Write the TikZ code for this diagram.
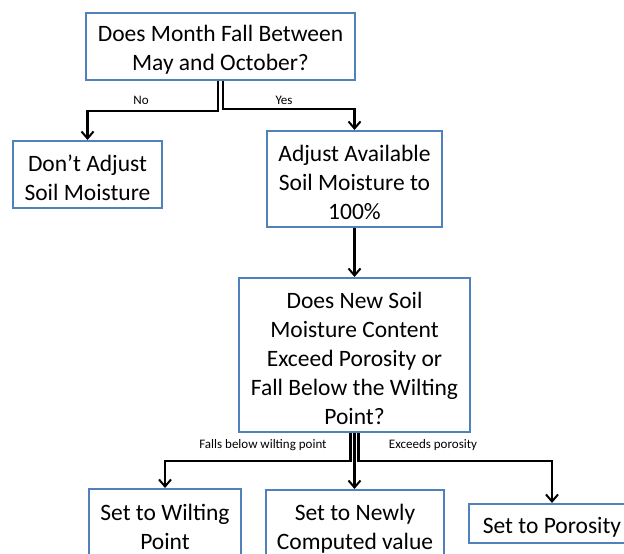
\documentclass[tikz,border=0pt]{standalone}
\usepackage{fontspec}
\setmainfont{Carlito}
\usetikzlibrary{arrows.meta}
\definecolor{boxblue}{RGB}{79,129,189}
\newcommand{\topstrut}{\rule{0pt}{23pt}}
\begin{document}
\begin{tikzpicture}[x=1pt,y=-1pt,
  box/.style={draw=boxblue, line width=2pt, align=center, inner sep=0pt,
    font=\fontsize{23.5}{29}\selectfont},
  conn/.style={line width=2.2pt, -{Straight Barb[length=7pt,width=12pt,line width=2pt]}},
  lbl/.style={font=\fontsize{13}{15}\selectfont, inner sep=0pt}]
\useasboundingbox (0,0) rectangle (624,554);
\clip (0,0) rectangle (624,554);
\fill[white] (0,0) rectangle (624,554);

\node[box, minimum width=269pt, minimum height=67pt] (q1) at (220.5,46.5) {\topstrut Does Month Fall Between\\May and October?};
\node[box, minimum width=149pt, minimum height=67pt] (n2) at (87.5,174.5) {\topstrut Don’t Adjust\\Soil Moisture};
\node[box, minimum width=175pt, minimum height=96pt] (a3) at (354.5,179) {\topstrut Adjust Available\\Soil Moisture to\\100\%};
\node[box, minimum width=231pt, minimum height=154pt] (q4) at (354.5,355) {\topstrut Does New Soil\\Moisture Content\\Exceed Porosity or\\Fall Below the Wilting\\Point?};
\node[box, minimum width=152pt, minimum height=70pt] (s5) at (165,524) {\topstrut Set to Wilting\\Point};
\node[box, minimum width=178pt, minimum height=70pt] (s6) at (355,525) {\topstrut Set to Newly\\Computed value};
\node[box, minimum width=166pt, minimum height=39pt] (s7) at (552,523.5) {\topstrut Set to Porosity};

\draw[conn] ([xshift=-2.3pt]q1.south) -- ++(0,30) -| (n2.north);
\draw[conn] ([xshift=2.3pt]q1.south) -- ++(0,28) -| (a3.north);
\draw[conn] (a3.south) -- (q4.north);
\draw[conn] ([xshift=-4pt]q4.south) -- ++(0,28) -| (s5.north);
\draw[conn] (q4.south) -- (q4.south |- s6.north);
\draw[conn] ([xshift=4pt]q4.south) -- ++(0,28) -| (s7.north);

\node[lbl] (lno) at (141,100) {No};
\node[lbl] (lyes) at (284,100) {Yes};
\node[lbl] (lfall) at (263,445) {Falls below wilting point};
\node[lbl] (lexc) at (433,445) {Exceeds porosity};
\end{tikzpicture}
\end{document}
